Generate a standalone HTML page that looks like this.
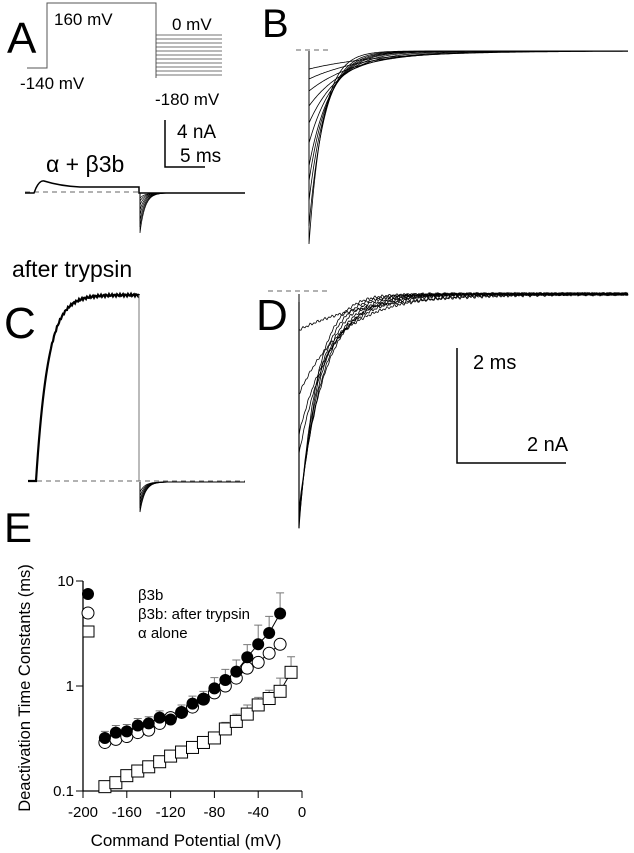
<!DOCTYPE html>
<html><head><meta charset="utf-8"><style>
body{margin:0;background:#fff}
svg{display:block;font-family:"Liberation Sans",sans-serif}
</style></head><body>
<svg id="fig" width="634" height="853" viewBox="0 0 634 853">
<g id="pa">
<text x="7" y="53" font-size="44">A</text>
<polyline points="27,68 47,68 47,3 156,3 156,78" fill="none" stroke="#555" stroke-width="1"/>
<g id="steps"></g>
<text x="54" y="25" font-size="17">160 mV</text>
<text x="20" y="89" font-size="17">-140 mV</text>
<text x="172" y="30" font-size="17">0 mV</text>
<text x="155" y="105" font-size="17">-180 mV</text>
<path d="M165,120 V167 H205" fill="none" stroke="#000" stroke-width="1.5"/>
<text x="177" y="138" font-size="19">4 nA</text>
<text x="180" y="162" font-size="19">5 ms</text>
<text x="46" y="172" font-size="23">α + β3b</text>
<line x1="25" y1="192" x2="140" y2="192" stroke="#666" stroke-dasharray="5,4"/>
<path d="M25,193 H34 L36,188 Q40,180 44,181 Q60,186 80,187 H139 V193 H245" fill="none" stroke="#000" stroke-width="1.5"/>
<g id="tailA"></g>
</g>
<g id="pb">
<text x="262" y="37" font-size="40">B</text>
<line x1="296" y1="50" x2="330" y2="50" stroke="#666" stroke-dasharray="5,4"/>
<g id="tracesB"></g>
</g>
<text x="12" y="277" font-size="23">after trypsin</text>
<g id="pc">
<text x="4" y="338" font-size="44">C</text>
<line x1="28" y1="481" x2="245" y2="481" stroke="#666" stroke-dasharray="5,4"/>
<path id="riseC" fill="none" stroke="#000" stroke-width="2.2"/>
<line x1="139" y1="295" x2="139" y2="481" stroke="#777"/>
<g id="tailC"></g>
</g>
<g id="pd">
<text x="256" y="330" font-size="44">D</text>
<line x1="268" y1="291" x2="330" y2="291" stroke="#666" stroke-dasharray="5,4"/>
<line x1="299" y1="302" x2="299" y2="528" stroke="#000" stroke-width="1.2"/>
<g id="tracesD"></g>
<path d="M457,348 V463 H566" fill="none" stroke="#000" stroke-width="1.5"/>
<text x="473" y="369" font-size="20">2 ms</text>
<text x="527" y="451" font-size="20">2 nA</text>
</g>
<g id="pe">
<text x="4" y="542" font-size="42">E</text>
<g id="chartE"></g>
<text transform="translate(30,688) rotate(-90)" text-anchor="middle" font-size="16.5">Deactivation Time Constants (ms)</text>
<text x="186" y="846" text-anchor="middle" font-size="17">Command Potential (mV)</text>
<circle cx="88" cy="594" r="6" fill="#000"/>
<text x="138" y="600" font-size="15">β3b</text>
<circle cx="88" cy="613" r="6" fill="#fff" stroke="#000"/>
<text x="138" y="619" font-size="15">β3b: after trypsin</text>
<rect x="83" y="626" width="11" height="11" fill="#fff" stroke="#000"/>
<text x="138" y="638" font-size="15">α alone</text>
</g>
</svg>
<script>
const NS="http://www.w3.org/2000/svg";
const potentials=[-180,-170,-160,-150,-140,-130,-120,-110,-100,-90,-80,-70,-60,-50,-40,-30,-20];
const beta3b=[0.32,0.36,0.37,0.42,0.44,0.50,0.48,0.56,0.68,0.75,0.95,1.14,1.37,1.88,2.5,3.2,4.9];
const beta3bErr=[0.05,0.06,0.06,0.07,0.07,0.08,0.08,0.1,0.12,0.14,0.25,0.3,0.4,0.6,1.3,1.4,2.8];
const trypsin=[0.29,0.31,0.33,0.36,0.38,0.44,0.50,0.56,0.63,0.75,0.86,1.0,1.19,1.48,1.68,2.05,2.5];
const alphaV=[-180,-170,-160,-150,-140,-130,-120,-110,-100,-90,-80,-70,-60,-50,-40,-30,-20,-10];
const alphaT=[0.11,0.12,0.14,0.155,0.17,0.19,0.215,0.235,0.26,0.29,0.32,0.39,0.46,0.54,0.66,0.76,0.89,1.35];
const alphaErr=[0.01,0.01,0.015,0.015,0.02,0.02,0.025,0.025,0.03,0.035,0.04,0.06,0.08,0.12,0.12,0.15,0.3,0.55];
const xTicks=[-200,-160,-120,-80,-40,0];
const yTicks=[0.1,1,10];
const yTickLabels=["0.1","1","10"];
const X0=83,X1=302,Y0=791,Y1=581;
const xs=v=>X0+(v+200)/200*(X1-X0);
const ys=t=>Y0-(Math.log10(t)+1)/2*(Y0-Y1);
const E=document.getElementById('chartE');
function mk(tag,a,p){const e=document.createElementNS(NS,tag);for(const k in a)e.setAttribute(k,a[k]);(p||E).appendChild(e);return e;}
let ax=mk('path',{d:`M${X0},${Y1} V${Y0} H${X1}`,fill:'none',stroke:'#000','stroke-width':1.3});


xTicks.forEach(v=>{let l=mk('line',{x1:xs(v),x2:xs(v),y1:Y0,y2:Y0+7,stroke:'#000'});


let t=mk('text',{x:xs(v),y:Y0+26,'text-anchor':'middle','font-size':15});t.textContent=v;

});
yTicks.forEach((v,i)=>{let l=mk('line',{x1:X0-7,x2:X0,y1:ys(v),y2:ys(v),stroke:'#000'});


let t=mk('text',{x:X0-9,y:ys(v)+5,'text-anchor':'end','font-size':15});t.textContent=yTickLabels[i];

});
function line(vs,ts){return vs.map((v,i)=>(i?'L':'M')+xs(v)+','+ys(ts[i])).join('');}
[[potentials,beta3b],[potentials,trypsin],[alphaV,alphaT]].forEach(([a,b])=>{let p=mk('path',{d:line(a,b),fill:'none',stroke:'#000','stroke-width':1});

});
function err(vs,ts,es){vs.forEach((v,i)=>{const x=xs(v),y=ys(ts[i]),y2=ys(ts[i]+es[i]);let p=mk('path',{d:`M${x},${y} V${y2} M${x-4},${y2} H${x+4}`,stroke:'#777',fill:'none'});

});}
err(potentials,beta3b,beta3bErr);err(alphaV,alphaT,alphaErr);
trypsin.forEach((t,i)=>{let c=mk('circle',{cx:xs(potentials[i]),cy:ys(t),r:6,fill:'#fff',stroke:'#000'});

});
beta3b.forEach((t,i)=>{let c=mk('circle',{cx:xs(potentials[i]),cy:ys(t),r:6,fill:'#000'});

});
alphaT.forEach((t,i)=>{let r=mk('rect',{x:xs(alphaV[i])-6,y:ys(t)-6,width:12,height:12,fill:'#fff',stroke:'#000'});

});
const stepLevels=[35,39,43,47,51,55,59,63,67,71,75];
const SG=document.getElementById('steps');
stepLevels.forEach(y=>{let l=mk('line',{x1:156,x2:222,y1:y,y2:y,stroke:'#444','stroke-width':0.8},SG);

});
function expTrace(g,x0,base,depth,tau,len,noise,name,w){let d='M'+x0+','+base;let x;for(x=0;x<=len;x+=1){const y=base+depth*Math.exp(-x/tau)+(noise?(Math.sin(x*1.7+depth)*noise+Math.sin(x*0.9+tau)*noise*0.6):0);d+=`L${x0+x},${y.toFixed(1)}`;}
let p=mk('path',{d:d,fill:'none',stroke:'#000','stroke-width':w||0.8},g);

}
const bPeaks=[193,175,150,130,115,92,72,55,40,28,18];
const bTaus=[14,16,18,20,22,26,32,40,50,60,75];
const GB=document.getElementById('tracesB');
bPeaks.forEach((p,i)=>expTrace(GB,309,51,p,bTaus[i],319,0,'trace-b'));
const dPeaks=[234,230,225,222,215,160,140,36,100];
const dTaus=[18,20,22,24,26,30,34,70,45];
const GD=document.getElementById('tracesD');
dPeaks.forEach((p,i)=>expTrace(GD,299,294,p,dTaus[i],329,1,'trace-d'));
const aTails=[40,34,28,22,17,12,8,5];
const GA=document.getElementById('tailA');
aTails.forEach(p=>expTrace(GA,140,193,p,5,60,0,'tail-trace-a',0.7));
const cTails=[30,26,22,18,14,10];
const GC=document.getElementById('tailC');
cTails.forEach(p=>expTrace(GC,140,482,p,5,105,0,'tail-trace-c',0.8));
let dc='M28,481 L36,481';for(let x=0;x<=103;x++){const y=481-186*(1-Math.exp(-x/12))+ (x>15?Math.sin(x*2.3)*1.2:0);dc+=`L${36+x},${y.toFixed(1)}`;}
document.getElementById('riseC').setAttribute('d',dc);
</script>
</body></html>
